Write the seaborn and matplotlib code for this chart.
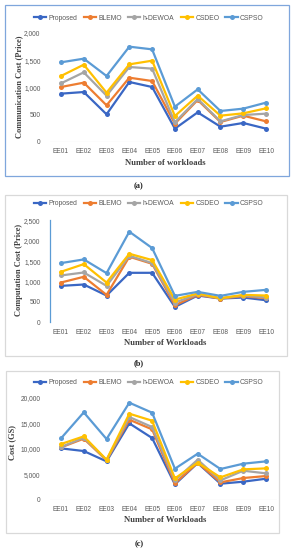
import matplotlib
matplotlib.use("Agg")
import matplotlib.pyplot as plt
import seaborn as sns
import pandas as pd
from matplotlib.lines import Line2D
from matplotlib.patches import Rectangle
from matplotlib.ticker import FuncFormatter

workloads = ["EE01", "EE02", "EE03", "EE04", "EE05", "EE06", "EE07", "EE08", "EE09", "EE10"]
algorithms = ["Proposed", "BLEMO", "h-DEWOA", "CSDEO", "CSPSO"]

# (a) Communication cost
comm_proposed = [887, 917, 508, 1101, 1009, 245, 544, 281, 349, 245]
comm_blemo = [1009, 1089, 673, 1180, 1119, 336, 771, 367, 483, 379]
comm_hdewoa = [1076, 1278, 850, 1376, 1346, 361, 789, 379, 495, 520]
comm_csdeo = [1211, 1419, 905, 1425, 1492, 477, 850, 483, 526, 618]
comm_cspso = [1462, 1529, 1211, 1749, 1700, 648, 966, 569, 612, 722]

# (b) Computation cost
comp_proposed = [893, 926, 656, 1213, 1213, 377, 656, 582, 607, 541]
comp_blemo = [975, 1115, 672, 1607, 1434, 418, 672, 582, 639, 590]
comp_hdewoa = [1148, 1221, 893, 1631, 1451, 484, 689, 590, 656, 607]
comp_csdeo = [1238, 1426, 975, 1680, 1525, 557, 705, 590, 672, 656]
comp_cspso = [1451, 1541, 1205, 2221, 1820, 648, 746, 648, 746, 795]

# (c) Cost (GS)
cost_proposed = [10065, 9542, 7516, 14967, 12092, 3007, 7190, 3137, 3529, 4118]
cost_blemo = [10261, 11961, 7712, 15686, 13791, 3203, 7255, 3399, 4248, 4641]
cost_hdewoa = [10327, 12157, 7778, 16209, 14248, 3791, 7843, 3791, 5686, 5163]
cost_csdeo = [10915, 12418, 7843, 16863, 15490, 4183, 7255, 4379, 5948, 6144]
cost_cspso = [12026, 17124, 11895, 19020, 17059, 6078, 9020, 6013, 7059, 7516]

colors = ["#3A67C4", "#ED7D31", "#A5A5A5", "#FFC000", "#5B9BD5"]

W, H = 294, 550
fig = plt.figure(figsize=(W / 100, H / 100), dpi=100)
fig.patch.set_facecolor("white")

SERIF = "Liberation Serif"
SANS = "Liberation Sans"
TICKC = "#595959"


def fx(x):
    return x / W


def fy(y):
    return 1 - y / H


def make_df(series):
    rows = []
    for name, vals in zip(algorithms, series):
        for w, v in zip(workloads, vals):
            rows.append({"Workload": w, "Value": v, "Algorithm": name})
    return pd.DataFrame(rows)


def box(x0, y0, x1, y1, color):
    fig.patches.append(Rectangle((fx(x0), fy(y1)), fx(x1) - fx(x0), fy(y0) - fy(y1),
                                 transform=fig.transFigure, fill=False,
                                 edgecolor=color, linewidth=0.9, zorder=0))


def panel(series, ytop_px, ybot_px, ymax, step, ylabel, xlabel, ylab_x, ylab_y,
          xlab_y, leg_y, caption, cap_y, baseline=True, leftline=False):
    ax = fig.add_axes([fx(49.6), fy(ybot_px), fx(277.4) - fx(49.6), fy(ytop_px) - fy(ybot_px)])
    df = make_df(series)
    sns.lineplot(data=df, x="Workload", y="Value", hue="Algorithm", hue_order=algorithms,
                 palette=colors, marker="o", markersize=3.6, markeredgewidth=0,
                 linewidth=1.6, sort=False, legend=False, ax=ax)
    ax.set_xlim(-0.5, 9.5)
    ax.set_ylim(0, ymax)
    ax.set_yticks(list(range(0, ymax + 1, step)))
    ax.yaxis.set_major_formatter(FuncFormatter(lambda v, p: f"{int(v):,}"))
    ax.set_xlabel("")
    ax.set_ylabel("")
    ax.tick_params(axis="both", length=0, labelsize=4.8, colors=TICKC)
    ax.tick_params(axis="y", pad=6.5)
    ax.tick_params(axis="x", pad=4.5)
    for lab in ax.get_xticklabels() + ax.get_yticklabels():
        lab.set_fontfamily(SANS)
    for s in ax.spines.values():
        s.set_visible(False)
    ax.grid(False)
    ax.set_facecolor("none")
    if baseline:
        ax.axhline(0, color="#D9D9D9", linewidth=0.8, zorder=0)
    if leftline:
        ax.spines["left"].set_visible(True)
        ax.spines["left"].set_color("#5B9BD5")
        ax.spines["left"].set_linewidth(0.9)
    fig.text(fx(ylab_x), fy(ylab_y), ylabel, rotation=90, ha="center", va="center",
             fontfamily=SERIF, fontweight="bold", fontsize=6.0, color="#404040")
    fig.text(fx(165), fy(xlab_y), xlabel, ha="center", va="center",
             fontfamily=SERIF, fontweight="bold", fontsize=6.2, color="#404040")
    handles = [Line2D([0], [0], color=c, linewidth=1.6, marker="o", markersize=3.6,
                      markeredgewidth=0) for c in colors]
    fig.legend(handles, algorithms, loc="center", bbox_to_anchor=(fx(149), fy(leg_y)),
               ncol=5, frameon=False, handlelength=1.8, handletextpad=0.35,
               columnspacing=0.9, labelcolor=TICKC, prop={"family": SANS, "size": 4.9})
    fig.text(fx(139), fy(cap_y), caption, ha="center", va="center",
             fontfamily=SERIF, fontweight="bold", fontsize=6, color="#222222")
    return ax


box(5, 5, 289, 176, "#7FA6DC")
box(5, 195, 287, 356, "#D9D9D9")
box(6, 371, 279, 533, "#D9D9D9")

panel([comm_proposed, comm_blemo, comm_hdewoa, comm_csdeo, comm_cspso],
      33, 142, 2000, 500, "Communication Cost (Price)", "Number of workloads",
      19, 87, 163, 18, "(a)", 186, baseline=True)
panel([comp_proposed, comp_blemo, comp_hdewoa, comp_csdeo, comp_cspso],
      220.3, 322.3, 2500, 500, "Computation Cost (Price)", "Number of Workloads",
      19, 270, 343, 204, "(b)", 363, baseline=False, leftline=True)
panel([cost_proposed, cost_blemo, cost_hdewoa, cost_csdeo, cost_cspso],
      397.7, 499.7, 20000, 5000, "Cost (GS)", "Number of Workloads",
      12, 443, 520, 383, "(c)", 544, baseline=True)

fig.savefig("out.png", dpi=100, facecolor="white")
